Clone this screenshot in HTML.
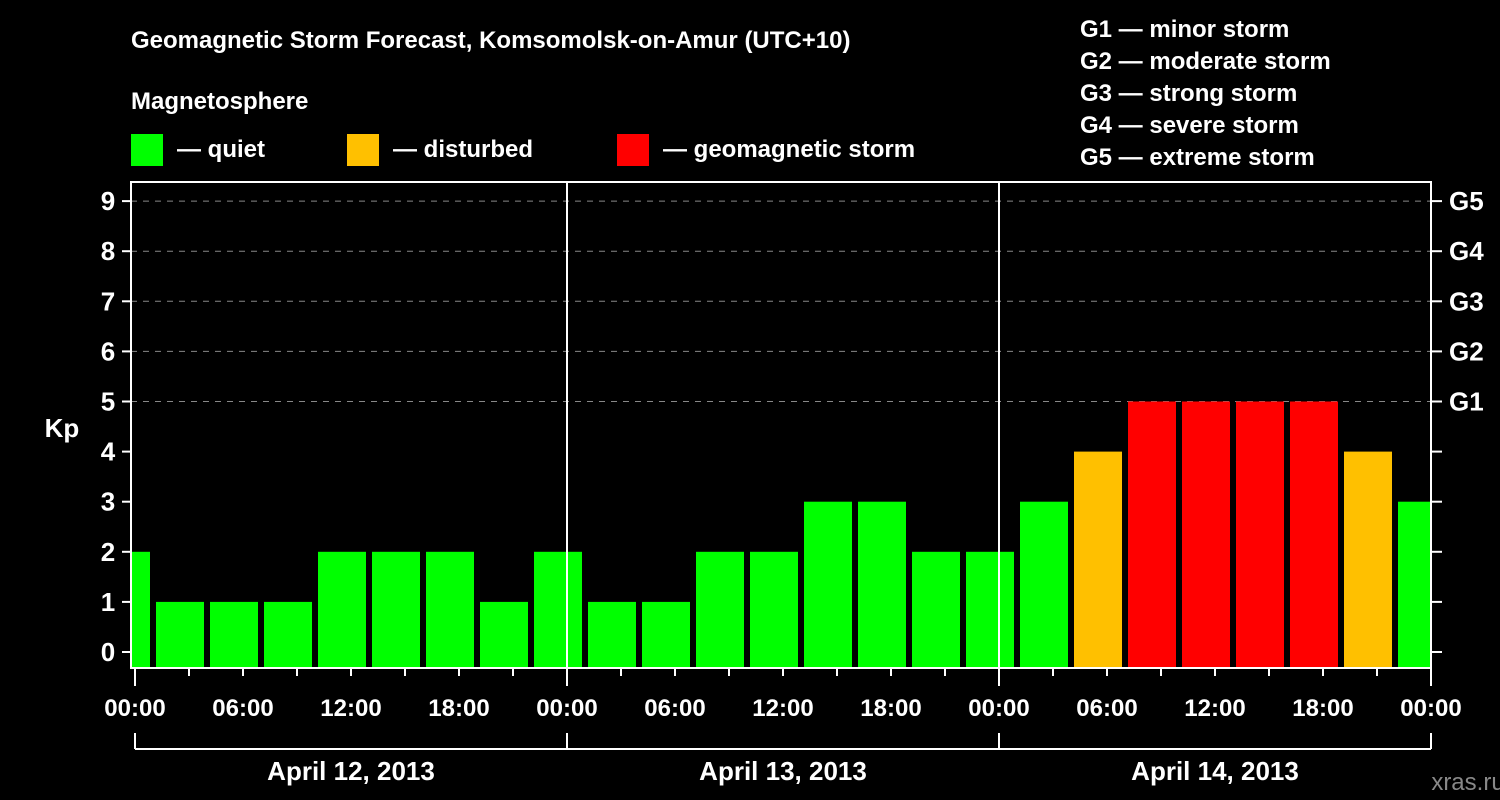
<!DOCTYPE html>
<html><head><meta charset="utf-8"><style>
body{margin:0;background:#000;}
svg{display:block;font-family:"Liberation Sans",sans-serif;font-weight:bold;}
</style></head><body>
<svg id="c" width="1500" height="800" viewBox="0 0 1500 800">
<rect width="1500" height="800" fill="#000"/>
<text x="131" y="48" fill="#fff" font-size="24">Geomagnetic Storm Forecast, Komsomolsk-on-Amur (UTC+10)</text>
<text x="131" y="109" fill="#fff" font-size="24">Magnetosphere</text>
<g><rect x="131" y="134" width="32" height="32" fill="#00ff00"/><text x="177" y="157" fill="#fff" font-size="24">— quiet</text></g>
<g><rect x="347" y="134" width="32" height="32" fill="#ffc000"/><text x="393" y="157" fill="#fff" font-size="24">— disturbed</text></g>
<g><rect x="617" y="134" width="32" height="32" fill="#ff0000"/><text x="663" y="157" fill="#fff" font-size="24">— geomagnetic storm</text></g>
<g fill="#fff" font-size="24">
<text x="1080" y="37">G1 — minor storm</text>
<text x="1080" y="69">G2 — moderate storm</text>
<text x="1080" y="101">G3 — strong storm</text>
<text x="1080" y="133">G4 — severe storm</text>
<text x="1080" y="165">G5 — extreme storm</text>
</g>
<text x="62" y="437" fill="#fff" font-size="26" text-anchor="middle">Kp</text>
<text x="1468" y="790" fill="#888" font-size="24" text-anchor="middle" font-weight="normal">xras.ru</text>
<g id="plot"></g>
</svg>
<script>
const kpValues=[2,1,1,1,2,2,2,1,2,1,1,2,2,3,3,2,2,3,4,5,5,5,5,4,3];
const yTicks=[0,1,2,3,4,5,6,7,8,9];
const gLabels=["G1","G2","G3","G4","G5"];
const xTickLabels=["00:00","06:00","12:00","18:00","00:00","06:00","12:00","18:00","00:00","06:00","12:00","18:00","00:00"];
const dayLabels=["April 12, 2013","April 13, 2013","April 14, 2013"];
const NS="http://www.w3.org/2000/svg";
const L=131,R=1431,T=182,B=668,X0=135,PH=18;
const xs=h=>X0+h*PH;
const ys=v=>652-v*50.1;
const g=document.getElementById('plot');
function el(t,a,p){const e=document.createElementNS(NS,t);for(const k in a)e.setAttribute(k,a[k]);(p||g).appendChild(e);return e;}
const cp=el('clipPath',{id:'cl'});el('rect',{x:L,y:T,width:R-L,height:B-T},cp);
// gridlines
for(let v=5;v<=9;v++){const e=el('line',{x1:L,x2:R,y1:ys(v),y2:ys(v),stroke:'#888','stroke-dasharray':'6,6','stroke-width':1});

}
// bars
const bg=el('g',{'clip-path':'url(#cl)'});
kpValues.forEach((v,k)=>{const c=v>=5?'#ff0000':(v>=4?'#ffc000':'#00ff00');
const x1=xs(3*k-2),x2=xs(3*k+1);
const r=el('rect',{x:x1+3,y:ys(v),width:x2-x1-6,height:B-ys(v),fill:c},bg);

});
// day lines
[1,2].forEach(d=>{const e=el('line',{x1:xs(24*d),x2:xs(24*d),y1:T,y2:B,stroke:'#fff','stroke-width':2});

});
// frame
const f=el('rect',{x:L,y:T,width:R-L,height:B-T,fill:'none',stroke:'#fff','stroke-width':2});


// y ticks
yTicks.forEach(v=>{el('line',{x1:122,x2:L,y1:ys(v),y2:ys(v),stroke:'#fff','stroke-width':2});
el('line',{x1:R,x2:1442,y1:ys(v),y2:ys(v),stroke:'#fff','stroke-width':2});
const t=el('text',{x:108,y:ys(v)+9,fill:'#fff','font-size':26,'text-anchor':'middle'});t.textContent=v;

});
gLabels.forEach((s,i)=>{const t=el('text',{x:1449,y:ys(5+i)+9,fill:'#fff','font-size':26});t.textContent=s;

});
// x ticks
for(let h=3;h<72;h+=3){el('line',{x1:xs(h),x2:xs(h),y1:B,y2:B+8,stroke:'#fff','stroke-width':2});}
xTickLabels.forEach((s,i)=>{const x=xs(6*i);
if(i%4==0)el('line',{x1:x,x2:x,y1:B,y2:686,stroke:'#fff','stroke-width':2});
const t=el('text',{x:x,y:716,fill:'#fff','font-size':24,'text-anchor':'middle'});t.textContent=s;

});
// day bracket
el('line',{x1:xs(0),x2:xs(72),y1:749,y2:749,stroke:'#fff','stroke-width':2});
for(let d=0;d<=3;d++)el('line',{x1:xs(24*d),x2:xs(24*d),y1:733,y2:749,stroke:'#fff','stroke-width':2});
dayLabels.forEach((s,i)=>{const t=el('text',{x:xs(24*i+12),y:780,fill:'#fff','font-size':26,'text-anchor':'middle'});t.textContent=s;

});
</script>
</body></html>
